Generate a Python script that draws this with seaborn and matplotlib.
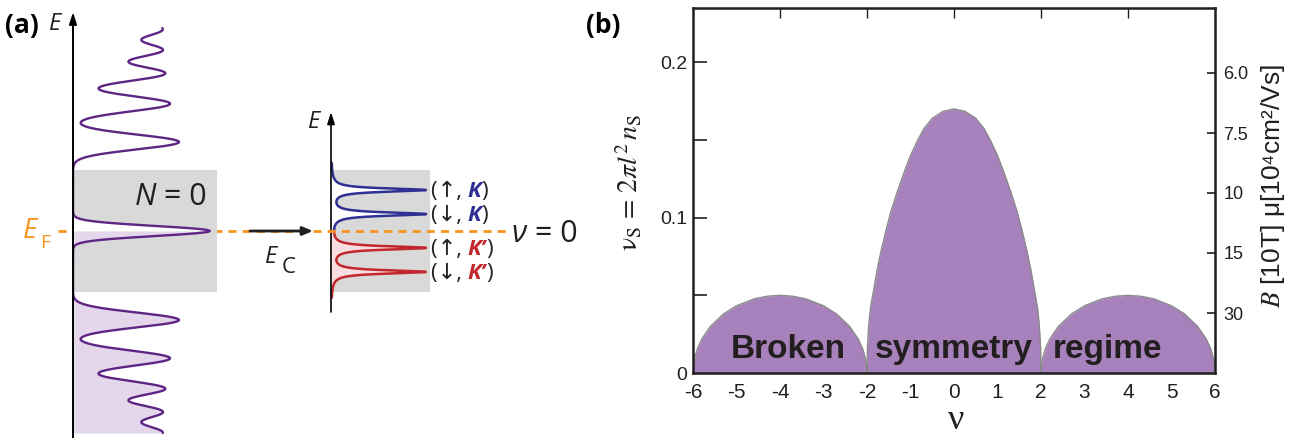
import numpy as np
import matplotlib
matplotlib.use("Agg")
import matplotlib.pyplot as plt
import seaborn as sns


# --- panel (b): values ---
nu_left = [-6.0, -5.97, -5.9, -5.8, -5.6, -5.3, -5.0, -4.6, -4.3, -4.0,
           -3.7, -3.4, -3.0, -2.7, -2.4, -2.2, -2.1, -2.03, -2.0]
nu_right = [2.0, 2.03, 2.1, 2.2, 2.4, 2.7, 3.0, 3.4, 3.7, 4.0,
            4.3, 4.6, 5.0, 5.3, 5.6, 5.8, 5.9, 5.97, 6.0]
vs_side = [0, 0.0087, 0.0156, 0.0218, 0.030, 0.038, 0.0433, 0.0477, 0.0494, 0.050,
           0.0494, 0.0477, 0.0433, 0.038, 0.030, 0.0218, 0.0156, 0.0087, 0]
nu_mid = [-2.0, -1.99, -1.96, -1.92, -1.85, -1.77, -1.68, -1.58, -1.45, -1.3, -1.15,
          -1.0, -0.85, -0.7, -0.5, -0.25, 0.0,
          0.25, 0.5, 0.7, 0.85, 1.0, 1.15, 1.3, 1.45, 1.58, 1.68, 1.77, 1.85,
          1.92, 1.96, 1.99, 2.0]
vs_mid = [0, 0.016, 0.031, 0.042, 0.053, 0.066, 0.078, 0.090, 0.104, 0.117, 0.129,
          0.140, 0.149, 0.157, 0.164, 0.1685, 0.170,
          0.1685, 0.164, 0.157, 0.149, 0.140, 0.129, 0.117, 0.104, 0.090, 0.078,
          0.066, 0.053, 0.042, 0.031, 0.016, 0]

regime_words = ["Broken", "symmetry", "regime"]
regime_nu = [-3.8, 0.0, 3.52]

nu_ticks = list(range(-6, 7))
nu_marks = [-4, -2, 0, 2, 4]
vs_ticks = [0, 0.1, 0.2]
vs_tick_labels = ["0", "0.1", "0.2"]
vs_minor = [0.05, 0.15]
mu_tick_pos = [0.0386, 0.0773, 0.1159, 0.1545, 0.1932]
mu_tick_labels = ["30", "15", "10", "7.5", "6.0"]

# --- panel (a): Landau level peaks, energy in units of the N=1 level ---
ll_energy = [-2.66, -2.47, -2.26, -2.03, -1.77, -1.43, -1.0, 0.0,
             1.0, 1.43, 1.77, 2.03, 2.26, 2.47, 2.66]
ll_height = [0.58, 0.58, 0.58, 0.604, 0.635, 0.674, 0.736, 0.95,
             0.736, 0.674, 0.635, 0.604, 0.58, 0.58, 0.58]
ll_width = [0.085, 0.085, 0.085, 0.085, 0.085, 0.085, 0.083, 0.056,
            0.083, 0.085, 0.085, 0.085, 0.085, 0.085, 0.085]
ll_range = (-2.27, 2.28)

# split zero level: (up,K) (down,K) (up,K') (down,K')
split_energy = [0.46, 0.19, -0.19, -0.46]
split_height = [0.95, 0.95, 0.95, 0.95]
split_width = 0.0225
split_range = (-0.75, 0.764)
box_half = 0.685

PURPLE_FILL = "#a781bb"
EDGE = "#8a8a8a"
INK = "#231f20"
LINE_PURPLE = "#5f2585"
LILAC = "#e4d6eb"
GRAY = "#d9d9d9"
ORANGE = "#f7941d"
BLUE = "#2e3192"
RED = "#c1272d"
PINK = "#fadde0"

sns.set_style("white")
plt.rcParams["font.family"] = ["Open Sans", "DejaVu Sans"]
plt.rcParams["mathtext.fontset"] = "stix"

W, H = 1309, 438
fig = plt.figure(figsize=(W / 100, H / 100), dpi=100)


def px_axes(left, top, right, bottom):
    return fig.add_axes([left / W, 1 - bottom / H, (right - left) / W, (bottom - top) / H])


def peak_sum(e, centers, heights, widths, kind="gauss"):
    out = np.zeros_like(e)
    for c, h, w in zip(centers, heights, widths):
        if kind == "gauss":
            out += h * np.exp(-(e - c) ** 2 / (2 * w ** 2))
        else:
            out += h * w ** 2 / ((e - c) ** 2 + w ** 2)
    return out


# ---------- panel (b) ----------
axb = px_axes(693, 8, 1215, 373)
for xs, ys in [(nu_left, vs_side), (nu_mid, vs_mid), (nu_right, vs_side)]:
    axb.fill_between(xs, 0, ys, color=PURPLE_FILL, lw=0)
    sns.lineplot(x=xs, y=ys, ax=axb, color=EDGE, lw=1, estimator=None)

for word, x in zip(regime_words, regime_nu):
    axb.text(x, 0.0097, word, ha="center", va="baseline", fontsize=24,
             fontweight="bold", family="Liberation Sans", color=INK)

axb.set_xlim(-6, 6)
axb.set_ylim(0, 0.235)
axb.xaxis.remove_overlapping_locs = False
axb.set_xticks(nu_ticks, [str(v) for v in nu_ticks])
axb.set_xticks(nu_marks, minor=True)
axb.tick_params(axis="x", which="major", length=0, pad=7, labelsize=15, colors=INK)
axb.tick_params(axis="x", which="minor", direction="in", length=7, width=1,
                top=True, bottom=True, color=INK)
for lab in axb.get_xticklabels():
    lab.set_family("Liberation Sans")
axb.set_yticks(vs_ticks, vs_tick_labels)
axb.set_yticks(vs_minor, minor=True)
axb.tick_params(axis="y", which="both", direction="in", length=10, width=1.2,
                left=True, right=False, pad=4, labelsize=14, colors=INK)
for lab in axb.get_yticklabels():
    lab.set_family("Liberation Sans")
for sp in axb.spines.values():
    sp.set_linewidth(1.8)
    sp.set_color(INK)

axr = axb.twinx()
axr.set_ylim(0, 0.235)
axr.set_yticks(mu_tick_pos, mu_tick_labels)
axr.tick_params(axis="y", direction="in", length=6, width=1.2, pad=6,
                labelsize=13, colors=INK)
for lab in axr.get_yticklabels():
    lab.set_family("Liberation Sans")
for sp in axr.spines.values():
    sp.set_visible(False)

fig.text(630 / W, 1 - 182 / H, r"$\mathrm{\nu_S}\,=\,2\pi l^2\,n_{\mathrm{S}}$",
         rotation=90, ha="center", va="center", fontsize=20, color=INK)
fig.text(1273 / W, 1 - 186 / H, r"$B$ [10T] μ[10⁴cm²/Vs]", rotation=90,
         ha="center", va="center", fontsize=19, color=INK,
         family=["Liberation Sans", "DejaVu Sans"])
fig.text(956 / W, 1 - 429 / H, "ν", ha="center", va="baseline", fontsize=26,
         family="Liberation Serif", color=INK)

# ---------- panel (a) ----------
ax0 = px_axes(0, 0, W, H)      # pixel-like overlay for labels
ax0.set_xlim(0, W)
ax0.set_ylim(H, 0)
ax0.set_axis_off()
ax0.set_zorder(2)

ax1 = px_axes(73, 12, 217, 438)   # big density of states
ax1.set_axis_off()
ax1.set_zorder(3)
ax1.set_xlim(0, 1)
ax1.set_ylim((231 - 438) / 89, (231 - 12) / 89)

ax2 = px_axes(331, 112, 430, 312)  # split N=0 level
ax2.set_axis_off()
ax2.set_zorder(1)
ax2.set_xlim(0, 1)
ax2.set_ylim((231 - 312) / 89, (231 - 112) / 89)

# big DOS
e_big = np.linspace(ll_range[0], ll_range[1], 1500)
dos_big = peak_sum(e_big, ll_energy, ll_height, ll_width)
ax1.axhspan(-box_half, box_half, color=GRAY, lw=0, zorder=0)
lo = e_big <= 0
ax1.fill_betweenx(e_big[lo], 0, dos_big[lo], color=LILAC, lw=0, zorder=1)
ax1.fill_betweenx(e_big[~lo], 0, dos_big[~lo], color="white", lw=0, zorder=1)
sns.lineplot(x=dos_big, y=e_big, ax=ax1, color=LINE_PURPLE, lw=1.7,
             orient="y", estimator=None, zorder=3)
ax1.annotate("", xy=(0, 1), xycoords="axes fraction", xytext=(0, 0),
             arrowprops=dict(arrowstyle="-|>,head_length=0.7,head_width=0.22",
                             color="black", lw=1.4, shrinkA=0, shrinkB=0), zorder=4)
tN = ax1.text(135, 205, "N", transform=ax0.transData, fontsize=22, style="italic",
              va="baseline", color=INK, zorder=5)
ax1.annotate(" = 0", xy=(1, 0), xycoords=tN, va="bottom", ha="left",
             fontsize=22, color=INK, zorder=5)

# small DOS
e_small = np.linspace(split_range[0], split_range[1], 1500)
dos_small = peak_sum(e_small, split_energy, split_height, [split_width] * 4, kind="lorentz")
ax2.axhspan(-box_half, box_half, xmin=0.02, color=GRAY, lw=0, zorder=0)
up = e_small >= 0
ax2.fill_betweenx(e_small[up], 0, dos_small[up], color="white", lw=0, zorder=1)
ax2.fill_betweenx(e_small[~up], 0, dos_small[~up], color=PINK, lw=0, zorder=1)
sns.lineplot(x=dos_small[up], y=e_small[up], ax=ax2, color=BLUE, lw=1.8,
             orient="y", estimator=None, zorder=3)
sns.lineplot(x=dos_small[~up], y=e_small[~up], ax=ax2, color=RED, lw=1.8,
             orient="y", estimator=None, zorder=3)
ax2.annotate("", xy=(0, 1), xycoords="axes fraction", xytext=(0, 0),
             arrowprops=dict(arrowstyle="-|>,head_length=0.7,head_width=0.22",
                             color="black", lw=1.2, shrinkA=0, shrinkB=0), zorder=4)

# Fermi level, arrow and labels (overlay, pixel coords)
ax0.plot([58, 507], [231, 231], color=ORANGE, lw=2, ls=(0, (2.9, 2.2)))
ax0.annotate("", xy=(313, 231), xytext=(250, 231),
             arrowprops=dict(arrowstyle="-|>,head_length=0.6,head_width=0.25",
                             color=INK, lw=2, shrinkA=0, shrinkB=0))

ax0.text(5, 33, "(a)", fontsize=19, fontweight="bold", va="baseline", color="black")
ax0.text(49, 30, "E", fontsize=17, style="italic", va="baseline", color=INK)
ax0.text(586, 33, "(b)", fontsize=19, fontweight="bold", va="baseline", color="black")
ax0.text(308, 128, "E", fontsize=17, style="italic", va="baseline", color=INK)

ax0.text(23, 238, "E", fontsize=20, style="italic", va="baseline", color=ORANGE)
ax0.text(40, 248, "F", fontsize=14, va="baseline", color=ORANGE)
ax0.text(265, 263, "E", fontsize=17, style="italic", va="baseline", color=INK)
ax0.text(282, 273, "C", fontsize=16, va="baseline", color=INK)

tnu = ax0.text(512, 242, "ν", fontsize=22, style="italic", va="baseline", color=INK)
ax0.annotate(" = 0", xy=(1, 0), xycoords=tnu, va="bottom", ha="left",
             fontsize=22, color=INK)

spin_labels = [("(↑, ", "K", BLUE, 197), ("(↓, ", "K", BLUE, 221),
               ("(↑, ", "K’", RED, 255), ("(↓, ", "K’", RED, 279)]
for head, valley, col, base in spin_labels:
    t1 = ax0.text(431, base, head, fontsize=16, va="baseline", color=INK,
                  family=["Open Sans", "DejaVu Sans"])
    t2 = ax0.annotate(valley, xy=(1, 0), xycoords=t1, va="bottom", ha="left",
                      fontsize=16, color=col, fontweight="bold", style="italic")
    ax0.annotate(")", xy=(1, 0), xycoords=t2, va="bottom", ha="left",
                 fontsize=16, color=INK)

fig.savefig("out.png", dpi=100)
